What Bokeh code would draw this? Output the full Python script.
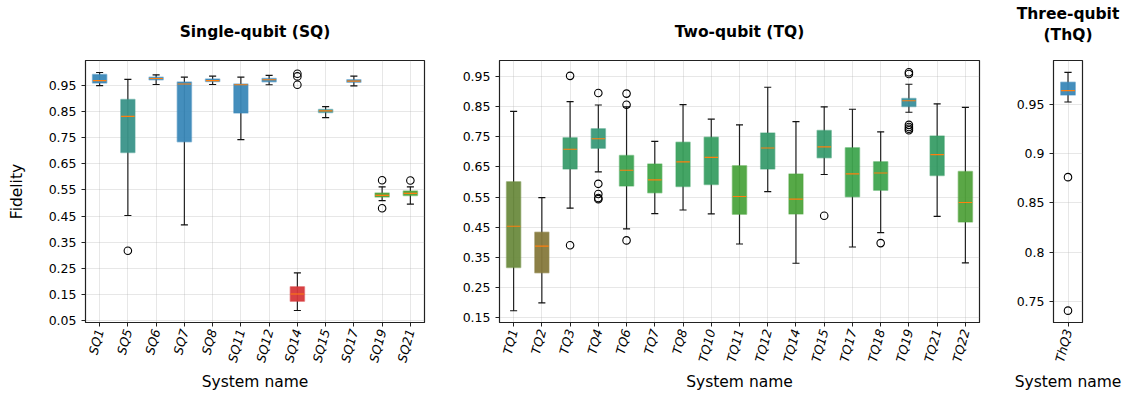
import math
from bokeh.plotting import figure
from bokeh.models import ColumnDataSource, FixedTicker, Range1d, LinearAxis
from bokeh.layouts import row
from bokeh.transform import dodge
from bokeh.embed import file_html
from bokeh.resources import INLINE

# ---------------- data ----------------
sq_names = ["SQ1", "SQ5", "SQ6", "SQ7", "SQ8", "SQ11", "SQ12", "SQ14", "SQ15", "SQ17", "SQ19", "SQ21"]
sq_q1 = [0.960, 0.693, 0.972, 0.735, 0.966, 0.845, 0.965, 0.123, 0.847, 0.963, 0.523, 0.529]
sq_med = [0.969, 0.832, 0.977, 0.956, 0.969, 0.953, 0.972, 0.151, 0.853, 0.967, 0.529, 0.537]
sq_q3 = [0.992, 0.897, 0.982, 0.964, 0.975, 0.956, 0.977, 0.179, 0.858, 0.972, 0.538, 0.546]
sq_wlo = [0.950, 0.452, 0.954, 0.416, 0.954, 0.743, 0.953, 0.088, 0.827, 0.949, 0.509, 0.496]
sq_whi = [1.000, 0.974, 0.991, 0.982, 0.986, 0.982, 0.989, 0.232, 0.869, 0.986, 0.562, 0.562]
sq_out = [[], [0.317], [], [], [], [], [], [0.995, 0.985, 0.953], [], [], [0.587, 0.480], [0.586]]

tq_names = ["TQ1", "TQ2", "TQ3", "TQ4", "TQ6", "TQ7", "TQ8", "TQ10", "TQ11", "TQ12",
            "TQ14", "TQ15", "TQ17", "TQ18", "TQ19", "TQ21", "TQ22"]
tq_q1 = [0.316, 0.298, 0.643, 0.712, 0.587, 0.564, 0.585, 0.592, 0.493, 0.643,
         0.494, 0.681, 0.551, 0.573, 0.851, 0.622, 0.467]
tq_med = [0.453, 0.387, 0.709, 0.744, 0.639, 0.607, 0.667, 0.682, 0.552, 0.713,
          0.543, 0.717, 0.627, 0.630, 0.870, 0.691, 0.532]
tq_q3 = [0.601, 0.433, 0.747, 0.777, 0.688, 0.660, 0.732, 0.749, 0.654, 0.763,
         0.627, 0.771, 0.714, 0.667, 0.878, 0.753, 0.635]
tq_wlo = [0.172, 0.198, 0.513, 0.634, 0.444, 0.495, 0.507, 0.494, 0.394, 0.568,
          0.330, 0.625, 0.384, 0.432, 0.832, 0.486, 0.331]
tq_whi = [0.835, 0.548, 0.867, 0.856, 0.850, 0.735, 0.857, 0.809, 0.790, 0.915,
          0.801, 0.850, 0.842, 0.767, 0.925, 0.860, 0.848]
tq_out = [[], [], [0.953, 0.390], [0.896, 0.594, 0.560, 0.547, 0.543], [0.894, 0.857, 0.406],
          [], [], [], [], [], [], [0.488], [], [0.397],
          [0.965, 0.959, 0.790, 0.783, 0.777, 0.772], [], []]

thq_names = ["ThQ3"]
thq_q1 = [0.959]
thq_med = [0.9635]
thq_q3 = [0.972]
thq_wlo = [0.952]
thq_whi = [0.982]
thq_out = [[0.876, 0.741]]

sq_yticks = [0.05, 0.15, 0.25, 0.35, 0.45, 0.55, 0.65, 0.75, 0.85, 0.95]
sq_ylabels = ["0.05", "0.15", "0.25", "0.35", "0.45", "0.55", "0.65", "0.75", "0.85", "0.95"]
tq_yticks = [0.15, 0.25, 0.35, 0.45, 0.55, 0.65, 0.75, 0.85, 0.95]
tq_ylabels = ["0.15", "0.25", "0.35", "0.45", "0.55", "0.65", "0.75", "0.85", "0.95"]
thq_yticks = [0.75, 0.8, 0.85, 0.9, 0.95]
thq_ylabels = ["0.75", "0.8", "0.85", "0.9", "0.95"]

sq_title = ["Single-qubit (SQ)"]
tq_title = ["Two-qubit (TQ)"]
thq_title = ["Three-qubit", "(ThQ)"]

# ---------------- style ----------------
FONT = "DejaVu Sans"
ANCHOR_V = [0.15, 0.39, 0.45, 0.54, 0.62, 0.68, 0.74, 0.83, 0.87, 0.95]
ANCHOR_C = ["#d6383a", "#857a3c", "#6d8a3f", "#4ea43c", "#40a64c", "#389e62",
            "#3a9a78", "#3a9488", "#3a8f9c", "#3a88b8"]


def hex2rgb(h):
    h = h.lstrip("#")
    return [int(h[i:i + 2], 16) for i in (0, 2, 4)]


def color_for(v):
    if v <= ANCHOR_V[0]:
        return ANCHOR_C[0]
    if v >= ANCHOR_V[-1]:
        return ANCHOR_C[-1]
    for i in range(len(ANCHOR_V) - 1):
        a, b = ANCHOR_V[i], ANCHOR_V[i + 1]
        if a <= v <= b:
            t = (v - a) / (b - a)
            c0, c1 = hex2rgb(ANCHOR_C[i]), hex2rgb(ANCHOR_C[i + 1])
            c = [round(c0[k] + (c1[k] - c0[k]) * t) for k in range(3)]
            return "#%02x%02x%02x" % tuple(c)
    return ANCHOR_C[-1]


def make_panel(names, q1, med, q3, wlo, whi, outs, yr, yticks, ylabels, title_lines,
               width, left, right, ylabel=None):
    p = figure(x_range=names, y_range=Range1d(*yr), width=width, height=394,
               output_backend="svg", toolbar_location=None, title=title_lines[0],
               min_border_left=left, min_border_right=right,
               min_border_top=59, min_border_bottom=72)
    t = p.title
    t.align = "center"
    t.text_font = FONT
    t.text_font_size = "15.5px"
    t.text_font_style = "bold"
    t.text_color = "black"
    t.standoff = 40 if len(title_lines) == 1 else 0
    p.background_fill_color = "white"
    p.border_fill_color = "white"
    p.outline_line_color = "#222222"
    p.outline_line_width = 1.2

    src = ColumnDataSource(dict(name=names, q1=q1, med=med, q3=q3, wlo=wlo, whi=whi,
                                color=[color_for(m) for m in med]))
    # whiskers
    p.segment(x0="name", y0="wlo", x1="name", y1="whi", source=src,
              line_color="#222222", line_width=1.2)
    # caps
    for col in ("wlo", "whi"):
        p.segment(x0=dodge("name", -0.125, range=p.x_range), y0=col,
                  x1=dodge("name", 0.125, range=p.x_range), y1=col, source=src,
                  line_color="#111111", line_width=1.2)
    # boxes
    p.vbar(x="name", width=0.5, bottom="q1", top="q3", source=src,
           fill_color="color", fill_alpha=0.95, line_color="color", line_alpha=0.45,
           line_width=1.5)
    # medians
    p.segment(x0=dodge("name", -0.24, range=p.x_range), y0="med",
              x1=dodge("name", 0.24, range=p.x_range), y1="med", source=src,
              line_color="#ff7f0e", line_width=1.1)
    # outliers
    ox, oy = [], []
    for n, lst in zip(names, outs):
        for v in lst:
            ox.append(n)
            oy.append(v)
    p.scatter(x=ox, y=oy, marker="circle", size=7.5, fill_color=None,
              line_color="black", line_width=1.1)

    xax = p.below[0]
    yax = p.left[0]
    yax.ticker = FixedTicker(ticks=yticks)
    yax.major_label_overrides = {tk: lb for tk, lb in zip(yticks, ylabels)}
    for ax in (xax, yax):
        ax.major_label_text_font = FONT
        ax.major_label_text_font_size = "12.5px"
        ax.major_label_text_color = "black"
        ax.axis_label_text_font = FONT
        ax.axis_label_text_font_size = "15.5px"
        ax.axis_label_text_font_style = "normal"
        ax.axis_label_text_color = "black"
        ax.major_tick_in = 0
        ax.major_tick_out = 4
        ax.minor_tick_line_color = None
        ax.axis_line_color = "#222222"
        ax.major_tick_line_color = "#222222"
    xax.major_label_orientation = math.radians(75)
    xax.major_label_text_font_style = "italic"
    xax.major_label_standoff = 3
    xax.axis_label = "System name"
    xax.axis_label_standoff = 4
    if ylabel:
        yax.axis_label = ylabel
        yax.axis_label_standoff = 20
    p.xgrid.grid_line_color = "#b0b0b0"
    p.xgrid.grid_line_alpha = 0.3
    p.ygrid.grid_line_color = "#b0b0b0"
    p.ygrid.grid_line_alpha = 0.3

    if len(title_lines) > 1:
        # second title line, drawn as the label of a bare axis above the frame
        ax2 = LinearAxis(ticker=FixedTicker(ticks=[]), axis_label=title_lines[1],
                         axis_line_color=None, major_tick_line_color=None,
                         minor_tick_line_color=None, major_tick_out=0, major_tick_in=0,
                         axis_label_standoff=17, axis_label_text_font=FONT,
                         axis_label_text_font_size="15.5px",
                         axis_label_text_font_style="bold",
                         axis_label_text_color="black")
        p.add_layout(ax2, "above")
    return p


p1 = make_panel(sq_names, sq_q1, sq_med, sq_q3, sq_wlo, sq_whi, sq_out,
                (0.042, 1.046), sq_yticks, sq_ylabels, sq_title,
                440, 85, 16, ylabel="Fidelity")
p2 = make_panel(tq_names, tq_q1, tq_med, tq_q3, tq_wlo, tq_whi, tq_out,
                (0.133, 1.004), tq_yticks, tq_ylabels, tq_title,
                550, 59, 11)
p3 = make_panel(thq_names, thq_q1, thq_med, thq_q3, thq_wlo, thq_whi, thq_out,
                (0.729, 0.994), thq_yticks, thq_ylabels, thq_title,
                137, 63, 45)

layout = row(p1, p2, p3, spacing=0)
open("out.html", "w").write(file_html(layout, INLINE))
